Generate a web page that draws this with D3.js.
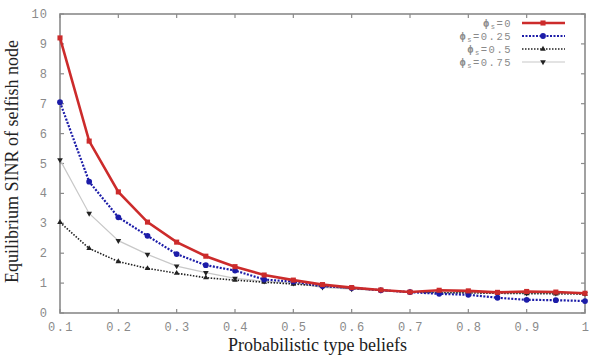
<!DOCTYPE html>
<html>
<head>
<meta charset="utf-8">
<script src="https://cdn.jsdelivr.net/npm/d3@7"></script>
<style>
  body { margin: 0; background: #fff; }
</style>
</head>
<body>
<div id="chart"></div>
<script>
const beliefs = [0.1, 0.15, 0.2, 0.25, 0.3, 0.35, 0.4, 0.45, 0.5, 0.55, 0.6, 0.65, 0.7, 0.75, 0.8, 0.85, 0.9, 0.95, 1.0];

const phi0   = [9.2, 5.75, 4.05, 3.04, 2.37, 1.9, 1.55, 1.27, 1.1, 0.95, 0.85, 0.77, 0.7, 0.76, 0.74, 0.69, 0.72, 0.7, 0.66];
const phi025 = [7.05, 4.39, 3.2, 2.58, 1.97, 1.6, 1.42, 1.12, 1.05, 0.9, 0.84, 0.76, 0.7, 0.64, 0.61, 0.51, 0.44, 0.43, 0.4];
const phi05  = [3.03, 2.16, 1.72, 1.49, 1.33, 1.18, 1.1, 1.03, 0.97, 0.9, 0.83, 0.76, 0.7, 0.68, 0.67, 0.66, 0.65, 0.64, 0.63];
const phi075 = [5.12, 3.33, 2.42, 1.96, 1.57, 1.35, 1.16, 1.06, 1.0, 0.86, 0.8, 0.76, 0.7, 0.69, 0.68, 0.67, 0.66, 0.66, 0.65];

const seriesNames = ["0", "0.25", "0.5", "0.75"];
const xTicks = [0.1, 0.2, 0.3, 0.4, 0.5, 0.6, 0.7, 0.8, 0.9, 1];
const yTicks = [0, 1, 2, 3, 4, 5, 6, 7, 8, 9, 10];

const styles = [
  { color: "#cc2b2b", width: 2.6, dash: null, symbol: d3.symbolSquare, size: 26, mcolor: "#cc2b2b" },
  { color: "#1c1ca8", width: 2.2, dash: "2,1.5", symbol: d3.symbolCircle, size: 26, mcolor: "#1c1ca8" },
  { color: "#222", width: 1.6, dash: "1.5,1.5", symbol: d3.symbolTriangle, size: 14, mcolor: "#222" },
  { color: "#c8c8c8", width: 1.2, dash: null, symbol: d3.symbolTriangle, size: 14, mcolor: "#222", flip: true }
];

const allSeries = [phi0, phi025, phi05, phi075];

const W = 589, H = 356;
const margin = { top: 14, right: 4, bottom: 43, left: 60 };
const width = W - margin.left - margin.right;
const height = H - margin.top - margin.bottom;

const svg = d3.select("#chart").append("svg")
  .attr("width", W).attr("height", H)
  .append("g")
  .attr("transform", `translate(${margin.left},${margin.top})`);

const x = d3.scaleLinear().domain([0.1, 1]).range([0, width]);
const y = d3.scaleLinear().domain([0, 10]).range([height, 0]);

const axisColor = "#8a8a8a";
const mono = "'Liberation Mono', 'DejaVu Sans Mono', monospace";

// frame
svg.append("rect")
  .attr("x", 0).attr("y", 0)
  .attr("width", width).attr("height", height)
  .attr("fill", "none")
  .attr("stroke", axisColor)
  .attr("stroke-width", 1.6);

// x ticks (inward, mirrored)
const xt = svg.append("g");
xTicks.forEach(t => {
  xt.append("line").attr("x1", x(t)).attr("x2", x(t)).attr("y1", height).attr("y2", height - 4)
    .attr("stroke", axisColor).attr("stroke-width", 1.2);
  xt.append("line").attr("x1", x(t)).attr("x2", x(t)).attr("y1", 0).attr("y2", 4)
    .attr("stroke", axisColor).attr("stroke-width", 1.2);
  xt.append("text").attr("x", x(t) + 1).attr("y", height + 18)
    .attr("text-anchor", "middle")
    .style("font-family", mono)
    .style("font-size", "12px")
    .style("letter-spacing", "1.5px")
    .attr("fill", "#8a8a8a")
    .text(d3.format("~g")(t));
});

// y ticks
const yt = svg.append("g");
yTicks.forEach(t => {
  yt.append("line").attr("x1", 0).attr("x2", 4).attr("y1", y(t)).attr("y2", y(t))
    .attr("stroke", axisColor).attr("stroke-width", 1.2);
  yt.append("line").attr("x1", width).attr("x2", width - 4).attr("y1", y(t)).attr("y2", y(t))
    .attr("stroke", axisColor).attr("stroke-width", 1.2);
  yt.append("text").attr("x", -12).attr("y", y(t) + 4)
    .attr("text-anchor", "end")
    .style("font-family", mono)
    .style("font-size", "12px")
    .style("letter-spacing", "1px")
    .attr("fill", "#8a8a8a")
    .text(t);
});

// lines
const line = d3.line().x((d, i) => x(beliefs[i])).y(d => y(d));

const drawOrder = [3, 2, 1, 0];
drawOrder.forEach(k => {
  const s = styles[k];
  const vals = allSeries[k];
  svg.append("path")
    .datum(vals)
    .attr("d", line)
    .attr("fill", "none")
    .attr("stroke", s.color)
    .attr("stroke-width", s.width)
    .attr("stroke-dasharray", s.dash);
  svg.selectAll(null)
    .data(vals)
    .join("path")
    .attr("d", d3.symbol().type(s.symbol).size(s.size))
    .attr("transform", (d, i) => `translate(${x(beliefs[i])},${y(d)})${s.flip ? " rotate(180)" : ""}`)
    .attr("fill", s.mcolor);
});

// legend
const leg = svg.append("g");
seriesNames.forEach((name, k) => {
  const s = styles[k];
  const ly = 9 + k * 13;
  const t = leg.append("text")
    .attr("x", 452).attr("y", ly + 4)
    .attr("text-anchor", "end")
    .style("font-family", mono)
    .style("font-size", "10.5px")
    .style("letter-spacing", "1.5px")
    .attr("fill", "#8a8a8a");
  t.append("tspan").style("font-weight", "bold").text("ϕ");
  t.append("tspan").attr("dy", 1.5).style("font-size", "7px").text("s");
  t.append("tspan").attr("dy", -1.5).text("=" + name);
  leg.append("line")
    .attr("x1", 462).attr("x2", 505).attr("y1", ly).attr("y2", ly)
    .attr("stroke", s.color)
    .attr("stroke-width", s.width)
    .attr("stroke-dasharray", s.dash);
  leg.append("path")
    .attr("d", d3.symbol().type(s.symbol).size(s.size))
    .attr("transform", `translate(483,${ly})${s.flip ? " rotate(180)" : ""}`)
    .attr("fill", s.mcolor);
});

// axis titles
svg.append("text")
  .attr("x", width / 2 - 5)
  .attr("y", height + 38)
  .attr("text-anchor", "middle")
  .style("font-family", "'Liberation Serif', 'Times New Roman', serif")
  .style("font-size", "18px")
  .attr("fill", "#222")
  .text("Probabilistic type beliefs");

svg.append("text")
  .attr("transform", "rotate(-90)")
  .attr("x", -height / 2 + 2)
  .attr("y", -42)
  .attr("text-anchor", "middle")
  .style("font-family", "'Liberation Serif', 'Times New Roman', serif")
  .style("font-size", "18px")
  .attr("fill", "#222")
  .text("Equilibrium SINR of selfish node");
</script>
</body>
</html>
